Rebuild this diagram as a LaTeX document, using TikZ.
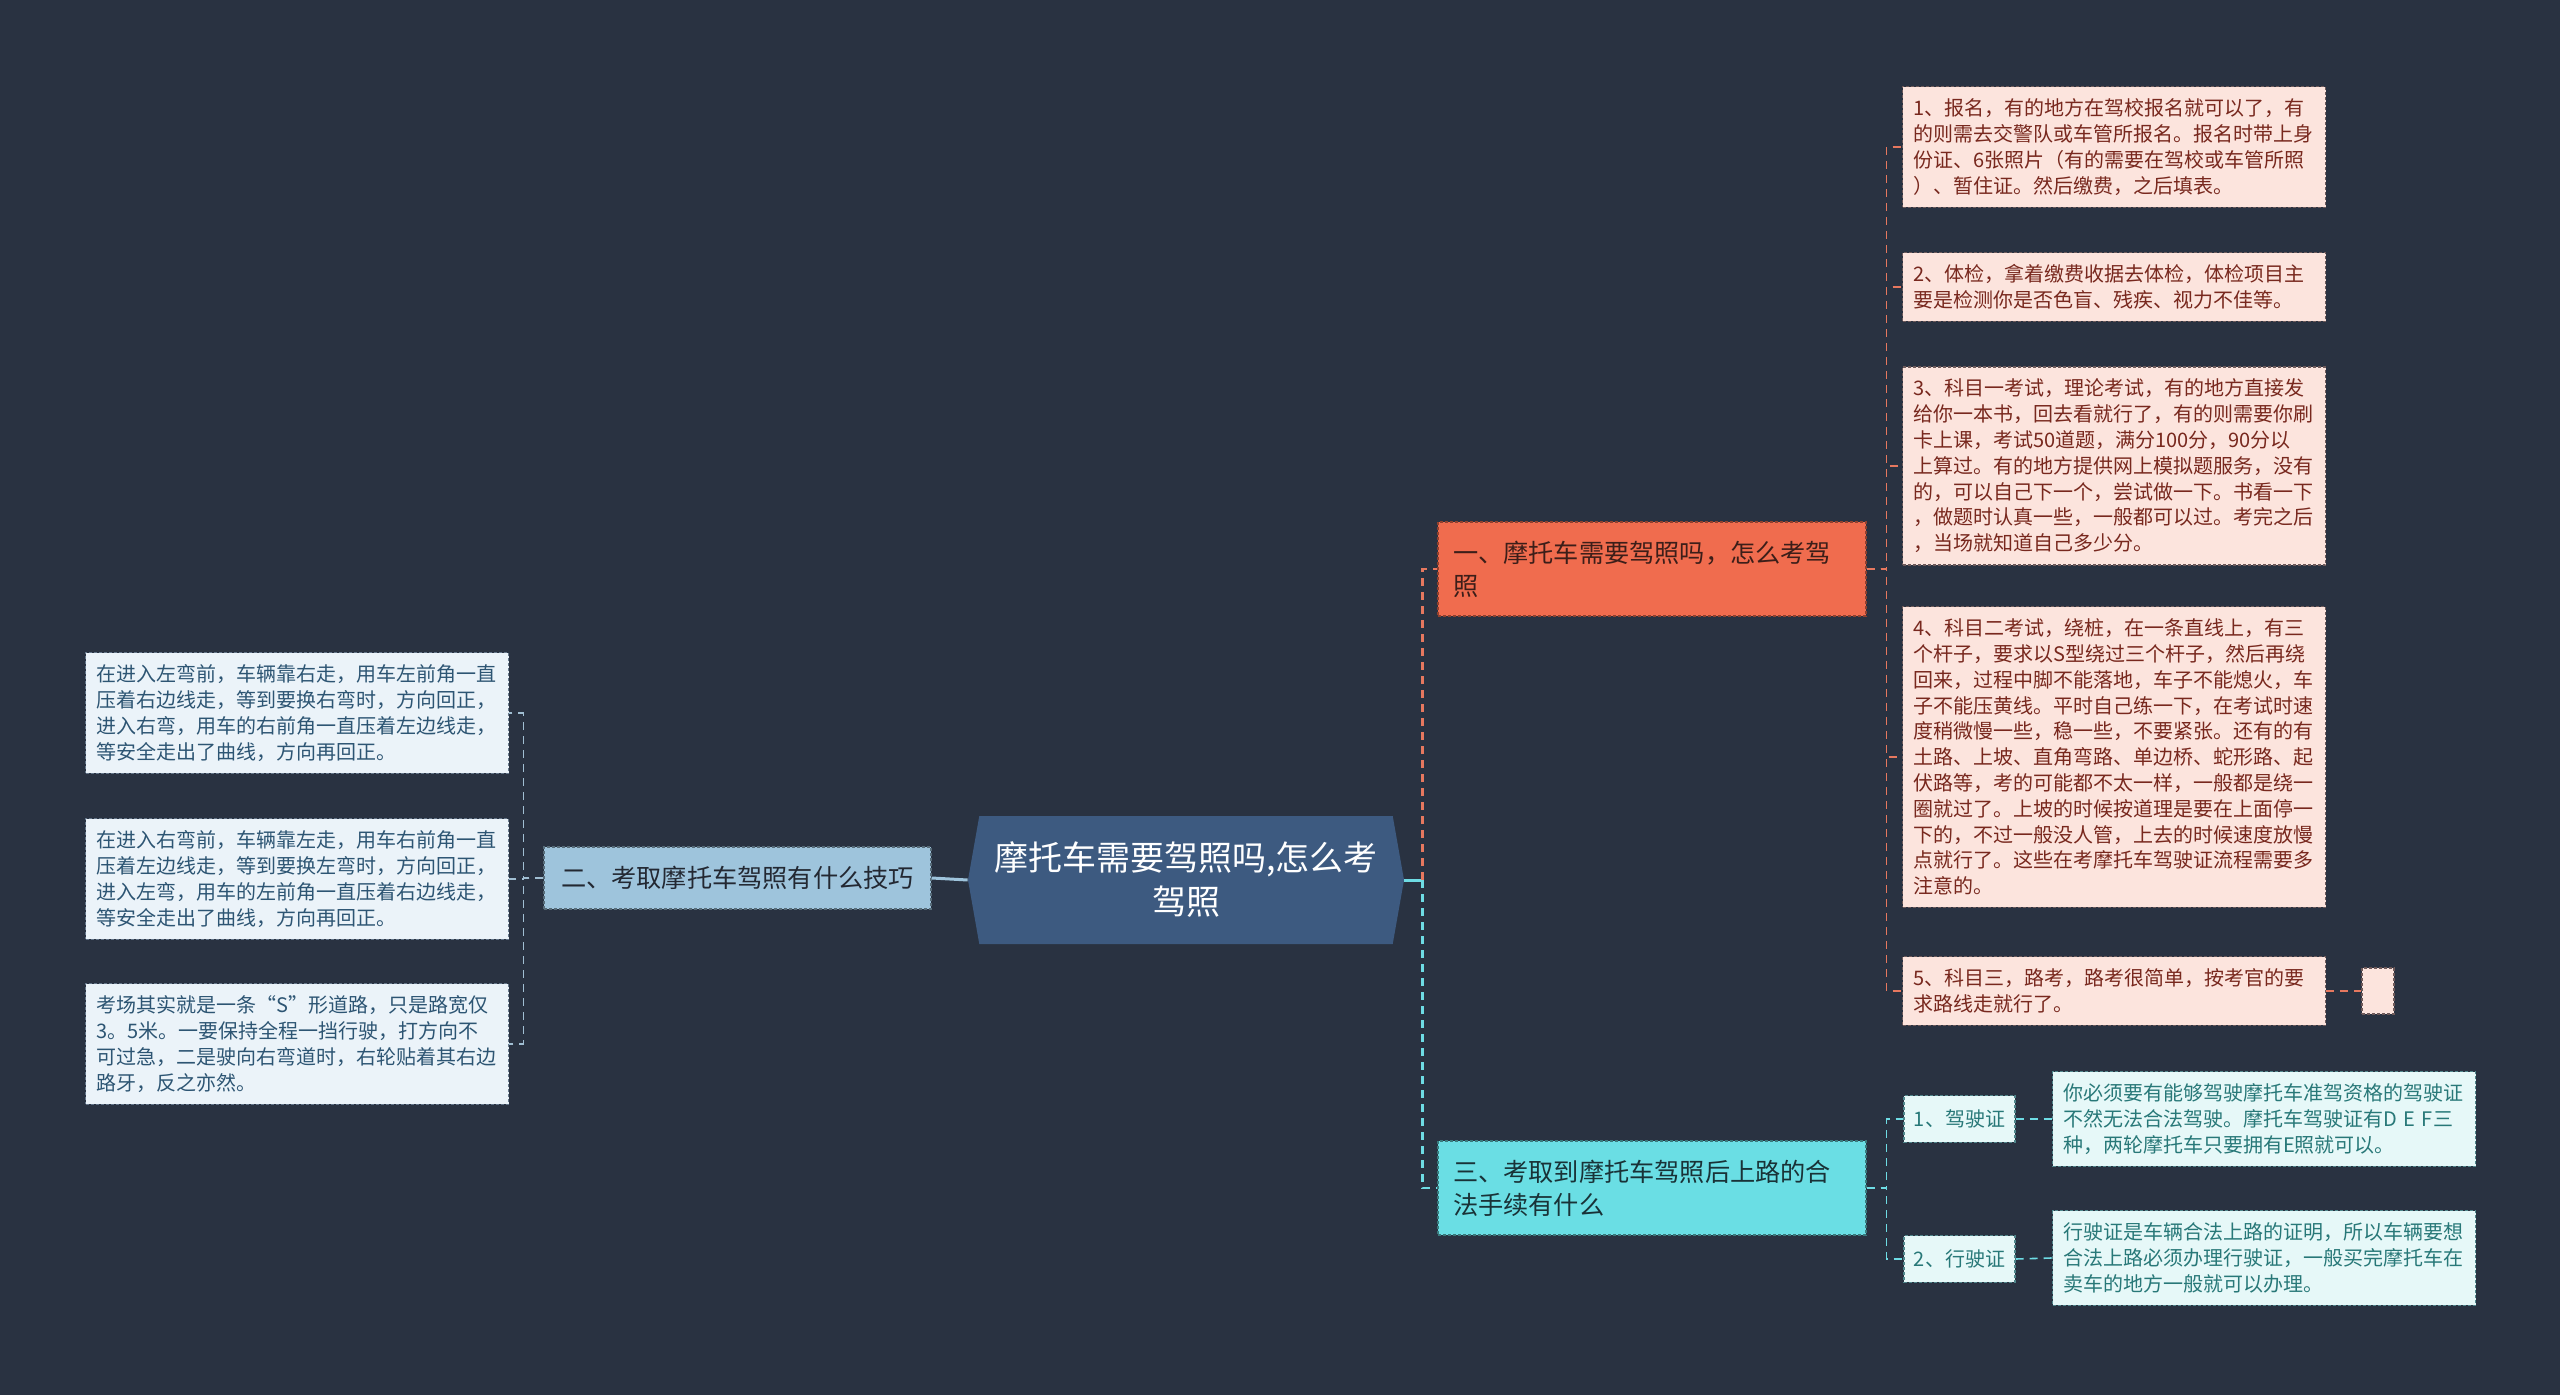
\documentclass[tikz,border=0pt]{standalone}
\usepackage{fontspec}
\setmainfont{Noto Sans CJK SC}
\usetikzlibrary{shapes.symbols}

\definecolor{bgnavy}{RGB}{41,50,65}
\definecolor{rootblue}{RGB}{61,90,128}
\definecolor{twofill}{RGB}{158,196,220}
\definecolor{onefill}{RGB}{240,108,78}
\definecolor{threefill}{RGB}{106,222,228}
\definecolor{lleaffill}{RGB}{235,243,249}
\definecolor{lleaftext}{RGB}{45,85,115}
\definecolor{lleafline}{RGB}{100,118,138}
\definecolor{pinkfill}{RGB}{252,228,221}
\definecolor{pinktext}{RGB}{120,40,30}
\definecolor{pinkline}{RGB}{110,90,90}
\definecolor{tealfill}{RGB}{230,248,248}
\definecolor{tealtext}{RGB}{40,120,120}
\definecolor{tealline}{RGB}{80,135,140}
\definecolor{twolink}{RGB}{160,190,210}
\definecolor{onelink}{RGB}{230,120,95}
\definecolor{threelink}{RGB}{110,220,228}

\begin{document}
\begin{tikzpicture}[x=0.5pt, y=-0.5pt,
    boxline/.style={line width=0.6pt, dash pattern=on 1.5pt off 1pt},
    rootnode/.style={signal, signal to=east and west, signal pointer angle=160,
      fill=rootblue, text=white, minimum width=218pt, minimum height=64pt,
      align=center, font=\fontsize{17pt}{22pt}\selectfont},
    branch/.style={boxline, inner xsep=7.5pt, inner ysep=8pt, align=left,
      font=\fontsize{12.6pt}{16.5pt}\selectfont},
    leaf/.style={boxline, anchor=west, text width=201pt, inner xsep=5.25pt,
      inner ysep=6pt, align=left, font=\fontsize{10pt}{12.9pt}\selectfont},
    leftleaf/.style={leaf, fill=lleaffill, draw=lleafline, text=lleaftext},
    pinkleaf/.style={leaf, fill=pinkfill, draw=pinkline, text=pinktext},
    tealleaf/.style={leaf, fill=tealfill, draw=tealline, text=tealtext},
    tag/.style={boxline, fill=tealfill, draw=tealline, text=tealtext,
      inner xsep=5pt, inner ysep=7pt, font=\fontsize{10pt}{12pt}\selectfont},
    link/.style={line width=0.8pt, dash pattern=on 4pt off 3pt},
    mainlink/.style={line width=1.4pt, dash pattern=on 4pt off 3pt}]

  % background
  \fill[bgnavy] (0,0) rectangle (2560,1395);
  \useasboundingbox (0,0) rectangle (2560,1395);

  % root
  \node[rootnode] (root) at (1186,880) {摩托车需要驾照吗,怎么考\\驾照};

  % main branches
  \node[branch, fill=onefill, draw=onefill!60!black, text={rgb,255:red,60;green,30;blue,25},
    text width=199pt, minimum height=47pt] (one) at (1652,569)
    {一、摩托车需要驾照吗，怎么考驾\\照};
  \node[branch, fill=twofill, draw=twofill!55!black, text={rgb,255:red,35;green,40;blue,50},
    minimum height=31pt, minimum width=193.5pt] (two) at (737.5,878)
    {二、考取摩托车驾照有什么技巧};
  \node[branch, fill=threefill, draw=threefill!55!black, text={rgb,255:red,25;green,50;blue,55},
    text width=199pt, minimum height=47pt] (three) at (1652,1188)
    {三、考取到摩托车驾照后上路的合\\法手续有什么};

  % left leaves
  \node[leftleaf] (l1) at (85,713) {在进入左弯前，车辆靠右走，用车左前角一直\\压着右边线走，等到要换右弯时，方向回正，\\进入右弯，用车的右前角一直压着左边线走，\\等安全走出了曲线，方向再回正。};
  \node[leftleaf] (l2) at (85,879) {在进入右弯前，车辆靠左走，用车右前角一直\\压着左边线走，等到要换左弯时，方向回正，\\进入左弯，用车的左前角一直压着右边线走，\\等安全走出了曲线，方向再回正。};
  \node[leftleaf] (l3) at (85,1044) {考场其实就是一条“S”形道路，只是路宽仅\\3。5米。一要保持全程一挡行驶，打方向不\\可过急，二是驶向右弯道时，右轮贴着其右边\\路牙，反之亦然。};

  % right leaves of branch one
  \node[pinkleaf] (r1) at (1902,147) {1、报名，有的地方在驾校报名就可以了，有\\的则需去交警队或车管所报名。报名时带上身\\份证、6张照片（有的需要在驾校或车管所照\\）、暂住证。然后缴费，之后填表。};
  \node[pinkleaf] (r2) at (1902,287) {2、体检，拿着缴费收据去体检，体检项目主\\要是检测你是否色盲、残疾、视力不佳等。};
  \node[pinkleaf] (r3) at (1902,466) {3、科目一考试，理论考试，有的地方直接发\\给你一本书，回去看就行了，有的则需要你刷\\卡上课，考试50道题，满分100分，90分以\\上算过。有的地方提供网上模拟题服务，没有\\的，可以自己下一个，尝试做一下。书看一下\\，做题时认真一些，一般都可以过。考完之后\\，当场就知道自己多少分。};
  \node[pinkleaf] (r4) at (1902,757) {4、科目二考试，绕桩，在一条直线上，有三\\个杆子，要求以S型绕过三个杆子，然后再绕\\回来，过程中脚不能落地，车子不能熄火，车\\子不能压黄线。平时自己练一下，在考试时速\\度稍微慢一些，稳一些，不要紧张。还有的有\\土路、上坡、直角弯路、单边桥、蛇形路、起\\伏路等，考的可能都不太一样，一般都是绕一\\圈就过了。上坡的时候按道理是要在上面停一\\下的，不过一般没人管，上去的时候速度放慢\\点就行了。这些在考摩托车驾驶证流程需要多\\注意的。};
  \node[pinkleaf] (r5) at (1902,991) {5、科目三，路考，路考很简单，按考官的要\\求路线走就行了。};
  \node[boxline, fill=pinkfill, draw=pinkline, minimum width=16pt, minimum height=23pt,
    inner sep=0pt] (r5x) at (2378,991) {};

  % branch three
  \node[tag] (c1) at (1959.5,1119) {1、驾驶证};
  \node[tag] (c2) at (1959.5,1259) {2、行驶证};
  \node[tealleaf] (t1) at (2052,1119) {你必须要有能够驾驶摩托车准驾资格的驾驶证\\不然无法合法驾驶。摩托车驾驶证有D E F三\\种，两轮摩托车只要拥有E照就可以。};
  \node[tealleaf] (t2) at (2052,1258) {行驶证是车辆合法上路的证明，所以车辆要想\\合法上路必须办理行驶证，一般买完摩托车在\\卖车的地方一般就可以办理。};

  % connectors
  \draw[twofill, line width=1.5pt] (root.west) -- (two.east);
  \draw[threelink, line width=1.5pt] (root.east) -- ++(18,0) coordinate (rj);
  \draw[mainlink, onelink] (rj) |- (one.west);
  \draw[mainlink, threelink] (rj) |- (three.west);

  \foreach \n in {l1,l2,l3}
    \draw[link, twolink] (two.west) -- ++(-20,0) |- (\n.east);
  \foreach \n in {r1,r2,r3,r4,r5}
    \draw[link, onelink] (one.east) -- ++(20,0) |- (\n.west);
  \draw[link, onelink] (r5.east) -- (r5x.west);
  \foreach \n in {c1,c2}
    \draw[link, threelink] (three.east) -- ++(20,0) |- (\n.west);
  \draw[link, threelink] (c1.east) -- (t1.west);
  \draw[link, threelink] (c2.east) -- (t2.west);
\end{tikzpicture}
\end{document}
